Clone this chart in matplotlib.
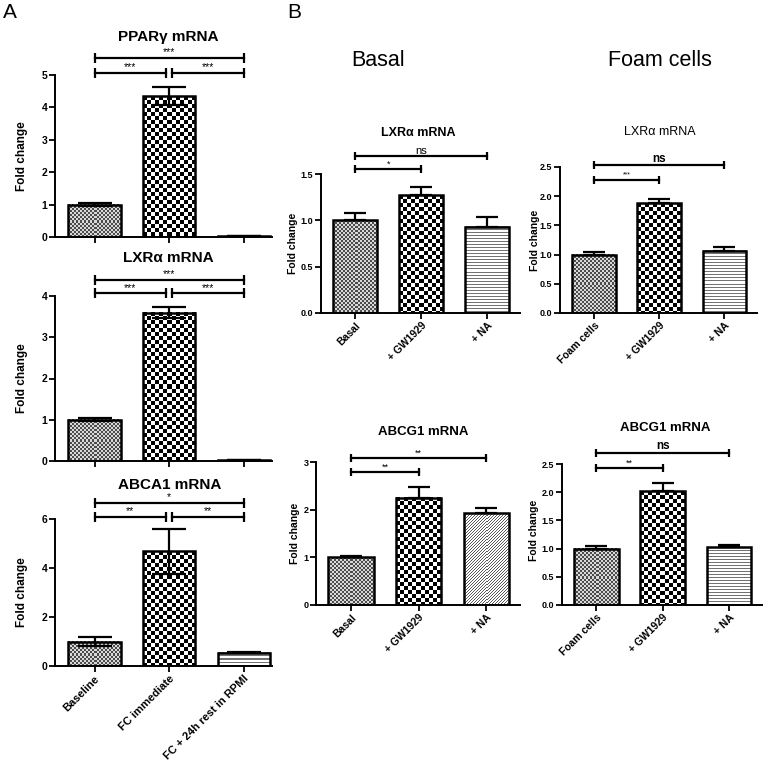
import numpy as np
import matplotlib
matplotlib.use("Agg")
import matplotlib.pyplot as plt

plt.rcParams['font.family'] = ['Liberation Sans', 'DejaVu Sans']
plt.rcParams['font.weight'] = 'bold'

# ---- data ----
a_groups = ["Baseline", "FC immediate", "FC + 24h rest in RPMI"]
ppar_mean = [1.0, 4.35, 0.02]
ppar_err = [0.04, 0.29, 0.0]
lxr_a_mean = [1.0, 3.6, 0.02]
lxr_a_err = [0.04, 0.13, 0.0]
abca1_mean = [1.0, 4.68, 0.55]
abca1_err = [0.17, 0.93, 0.03]

basal_groups = ["Basal", "+ GW1929", "+ NA"]
foam_groups = ["Foam cells", "+ GW1929", "+ NA"]
basal_lxr_mean = [1.0, 1.27, 0.93]
basal_lxr_err = [0.08, 0.09, 0.11]
foam_lxr_mean = [1.0, 1.88, 1.07]
foam_lxr_err = [0.05, 0.08, 0.06]
basal_abcg1_mean = [1.0, 2.25, 1.92]
basal_abcg1_err = [0.02, 0.22, 0.12]
foam_abcg1_mean = [1.0, 2.02, 1.02]
foam_abcg1_err = [0.05, 0.14, 0.05]

W, H = 770, 764
fig = plt.figure(figsize=(W / 100, H / 100), dpi=100)


def add_ax(left, right, top, bottom):
    return fig.add_axes([left / W, 1 - bottom / H, (right - left) / W, (bottom - top) / H])


def pattern(kind, w, h):
    w = max(int(round(w)), 1)
    h = max(int(round(h)), 1)
    yy, xx = np.mgrid[0:h, 0:w]
    if kind == 'fine':
        img = np.where(((xx // 2) + (yy // 2)) % 2 == 0, 0.3, 0.85)
    elif kind == 'coarse':
        img = np.where(((xx // 4) + (yy // 4)) % 2 == 0, 0.0, 1.0)
    elif kind == 'hlines':
        img = np.where(yy % 3 == 0, 0.45, 1.0)
    else:
        img = np.where((xx + yy) % 3 == 0, 0.35, 1.0)
    return img


def bar_panel(ax, means, errs, kinds, ylim, yticks, fmt, width, two_sided, capsize, xlim):
    x = np.arange(len(means))
    ax.set_xlim(*xlim)
    ax.set_ylim(*ylim)
    bars = ax.bar(x, means, width, facecolor='none', edgecolor='black', linewidth=1.8, zorder=3)
    for b, k in zip(bars, kinds):
        x0, y0 = b.get_x(), 0
        x1, y1 = b.get_x() + b.get_width(), b.get_height()
        p0 = ax.transData.transform((x0, y0))
        p1 = ax.transData.transform((x1, y1))
        img = pattern(k, p1[0] - p0[0], p1[1] - p0[1])
        ax.imshow(img, cmap='gray', vmin=0, vmax=1, extent=(x0, x1, y0, y1),
                  aspect='auto', interpolation='nearest', zorder=2)
    if two_sided:
        yerr = errs
    else:
        yerr = [np.zeros(len(errs)), errs]
    ax.errorbar(x, means, yerr=yerr, fmt='none', ecolor='black', elinewidth=1.6,
                capsize=capsize, capthick=1.6, zorder=4)
    ax.set_xlim(*xlim)
    ax.set_ylim(*ylim)
    ax.set_yticks(yticks)
    ax.set_yticklabels([fmt.format(t) for t in yticks])
    ax.set_xticks(x)
    for s in ['top', 'right']:
        ax.spines[s].set_visible(False)
    for s in ['left', 'bottom']:
        ax.spines[s].set_linewidth(1.4)
    ax.tick_params(direction='out', length=4, width=1.3, pad=1.5)
    return x


def bracket(ax, x0, x1, y, label, fs=6, weight='bold', dy=0.0, ms=7):
    ax.plot([x0, x1], [y, y], color='black', lw=1.6, clip_on=False, zorder=5,
            marker='|', markersize=ms, markeredgewidth=1.6)
    ax.text((x0 + x1) / 2, y + dy, label, ha='center', va='bottom', fontsize=fs,
            fontweight=weight, clip_on=False)


kinds_a = ['fine', 'coarse', 'hlines']
xlim_a = (-0.53, 2.38)

# ---- panel A ----
ax1 = add_ax(55, 272, 75, 237)
bar_panel(ax1, ppar_mean, ppar_err, kinds_a, (0, 5), [0, 1, 2, 3, 4, 5], '{:g}', 0.7, True, 12, xlim_a)
ax1.set_xticklabels([])
ax1.tick_params(axis='y', labelsize=7.5)
bracket(ax1, 0, 2, 5.52, '***', fs=7.5, weight='normal', dy=0.02)
bracket(ax1, 0, 0.96, 5.06, '***', fs=7.5, weight='normal', dy=0.02)
bracket(ax1, 1.04, 2, 5.06, '***', fs=7.5, weight='normal', dy=0.02)

ax2 = add_ax(55, 272, 296, 461)
bar_panel(ax2, lxr_a_mean, lxr_a_err, kinds_a, (0, 4), [0, 1, 2, 3, 4], '{:g}', 0.7, True, 12, xlim_a)
ax2.set_xticklabels([])
ax2.tick_params(axis='y', labelsize=7.5)
bracket(ax2, 0, 2, 4.39, '***', fs=7.5, weight='normal', dy=0.01)
bracket(ax2, 0, 0.96, 4.07, '***', fs=7.5, weight='normal', dy=0.01)
bracket(ax2, 1.04, 2, 4.07, '***', fs=7.5, weight='normal', dy=0.01)

ax3 = add_ax(55, 272, 519, 666)
bar_panel(ax3, abca1_mean, abca1_err, kinds_a, (0, 6), [0, 2, 4, 6], '{:g}', 0.7, True, 12, xlim_a)
ax3.set_xticklabels(a_groups, rotation=45, ha='right', rotation_mode='anchor', fontsize=8)
ax3.tick_params(axis='y', labelsize=7.5)
bracket(ax3, 0, 2, 6.65, '*', fs=7.5, weight='normal', dy=0.03)
bracket(ax3, 0, 0.96, 6.08, '**', fs=7.5, weight='normal', dy=0.03)
bracket(ax3, 1.04, 2, 6.08, '**', fs=7.5, weight='normal', dy=0.03)

for yc in [156, 378, 592]:
    fig.text(22 / W, 1 - yc / H, 'Fold change', rotation=90, ha='center', va='center', fontsize=8.5)
fig.text(168 / W, 1 - 37 / H, 'PPARγ mRNA', ha='center', va='center', fontsize=11)
fig.text(168 / W, 1 - 258 / H, 'LXRα mRNA', ha='center', va='center', fontsize=11)
fig.text(170 / W, 1 - 485 / H, 'ABCA1 mRNA', ha='center', va='center', fontsize=11)

# ---- panel B ----
xlim_b = (-0.52, 2.5)
ax4 = add_ax(321, 520, 174, 313)
bar_panel(ax4, basal_lxr_mean, basal_lxr_err, ['fine', 'coarse', 'hlines'], (0, 1.5),
          [0, 0.5, 1.0, 1.5], '{:.1f}', 0.67, False, 8, xlim_b)
ax4.set_xticklabels(basal_groups, rotation=45, ha='right', rotation_mode='anchor', fontsize=7.5)
ax4.tick_params(axis='y', labelsize=6.5)
bracket(ax4, 0, 1, 1.553, '*', fs=6.5, weight='normal', dy=0.005, ms=6)
bracket(ax4, 0, 2, 1.694, 'ns', fs=8, weight='normal', dy=0.005, ms=6)

ax5 = add_ax(560, 757, 167, 313)
bar_panel(ax5, foam_lxr_mean, foam_lxr_err, ['fine', 'coarse', 'hlines'], (0, 2.5),
          [0, 0.5, 1.0, 1.5, 2.0, 2.5], '{:.1f}', 0.67, False, 8, xlim_b)
ax5.set_xticklabels(foam_groups, rotation=45, ha='right', rotation_mode='anchor', fontsize=7.5)
ax5.tick_params(axis='y', labelsize=6.5)
bracket(ax5, 0, 1, 2.28, '***', fs=5, weight='normal', dy=0.02, ms=6)
bracket(ax5, 0, 2, 2.53, 'ns', fs=8.5, dy=0.01, ms=6)

ax6 = add_ax(316, 520, 462, 605)
bar_panel(ax6, basal_abcg1_mean, basal_abcg1_err, ['fine', 'coarse', 'diag'], (0, 3),
          [0, 1, 2, 3], '{:g}', 0.67, False, 8, xlim_b)
ax6.set_xticklabels(basal_groups, rotation=45, ha='right', rotation_mode='anchor', fontsize=7.5)
ax6.tick_params(axis='y', labelsize=6.5)
bracket(ax6, 0, 1, 2.79, '**', fs=6.5, weight='normal', dy=0.01, ms=6)
bracket(ax6, 0, 2, 3.08, '**', fs=6.5, weight='normal', dy=0.01, ms=6)

ax7 = add_ax(562, 762, 464, 605)
bar_panel(ax7, foam_abcg1_mean, foam_abcg1_err, ['fine', 'coarse', 'hlines'], (0, 2.5),
          [0, 0.5, 1.0, 1.5, 2.0, 2.5], '{:.1f}', 0.67, False, 8, xlim_b)
ax7.set_xticklabels(foam_groups, rotation=45, ha='right', rotation_mode='anchor', fontsize=7.5)
ax7.tick_params(axis='y', labelsize=6.5)
bracket(ax7, 0, 1, 2.43, '**', fs=6.5, weight='normal', dy=0.01, ms=6)
bracket(ax7, 0, 2, 2.70, 'ns', fs=8.5, dy=0.01, ms=6)

for xc, yc in [(293, 243), (535, 240), (295, 533), (534, 530)]:
    fig.text(xc / W, 1 - yc / H, 'Fold change', rotation=90, ha='center', va='center', fontsize=7.5)
fig.text(418 / W, 1 - 133 / H, 'LXRα mRNA', ha='center', va='center', fontsize=9)
fig.text(660 / W, 1 - 132 / H, 'LXRα mRNA', ha='center', va='center', fontsize=9, fontweight='normal')
fig.text(423 / W, 1 - 432 / H, 'ABCG1 mRNA', ha='center', va='center', fontsize=9.5)
fig.text(665 / W, 1 - 428 / H, 'ABCG1 mRNA', ha='center', va='center', fontsize=9.5)

fig.text(378 / W, 1 - 61 / H, 'Basal', ha='center', va='center', fontsize=15.5, fontweight='normal')
fig.text(660 / W, 1 - 61 / H, 'Foam cells', ha='center', va='center', fontsize=15.5, fontweight='normal')
fig.text(3 / W, 1 - 12 / H, 'A', ha='left', va='center', fontsize=15, fontweight='normal')
fig.text(287 / W, 1 - 12 / H, 'B', ha='left', va='center', fontsize=15, fontweight='normal')

fig.savefig('out.png', dpi=100, facecolor='white')
